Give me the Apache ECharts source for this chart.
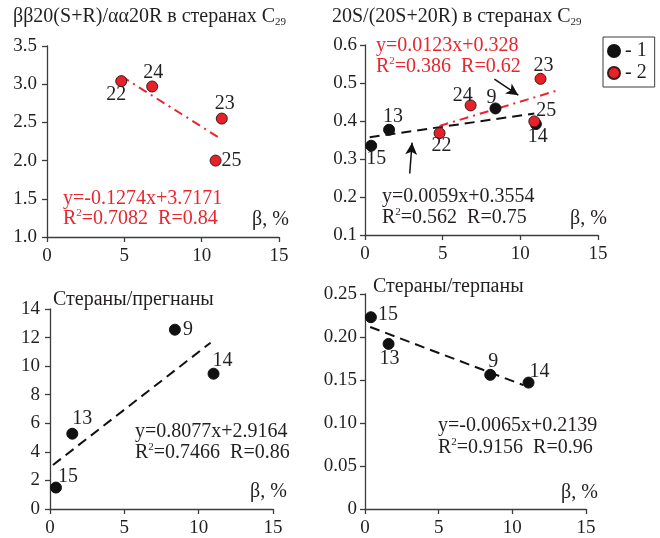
<!DOCTYPE html>
<html>
<head>
<meta charset="utf-8">
<script src="https://cdn.jsdelivr.net/npm/echarts@6/dist/echarts.min.js"></script>
<style>
  html, body { margin: 0; padding: 0; background: #fff; }
  #chart { width: 660px; height: 538px; }
</style>
</head>
<body>
<div id="chart"></div>
<script>
// β, % axis ticks shared by all four panels
const betaTicks = [0, 5, 10, 15];

// Panel A: ββ20(S+R)/αα20R in C29 steranes (group 2 only)
const aIds2 = ['22', '24', '23', '25'];
const aBeta2 = [4.8, 6.8, 11.3, 10.9];
const aVal2 = [3.04, 2.97, 2.55, 2.0];
const aFit2 = [-0.1274, 3.7171];
const aFit2Range = [4.8, 11.15];

// Panel B: 20S/(20S+20R) in C29 steranes
const bIds1 = ['15', '13', '9', '14'];
const bBeta1 = [0.4, 1.55, 8.4, 11.0];
const bVal1 = [0.335, 0.377, 0.433, 0.392];
const bIds2 = ['22', '24', '23', '25'];
const bBeta2 = [4.8, 6.8, 11.3, 10.9];
const bVal2 = [0.368, 0.441, 0.511, 0.399];
const bFit1 = [0.0059, 0.3554];
const bFit1Range = [0.3, 10.9];
const bFit2 = [0.0123, 0.328];
const bFit2Range = [4.8, 12.3];

// Panel C: steranes / pregnanes (group 1)
const cIds1 = ['15', '13', '9', '14'];
const cBeta1 = [0.4, 1.5, 8.4, 11.0];
const cVal1 = [1.5, 5.27, 12.55, 9.47];
const cFit1 = [0.8077, 2.9164];
const cFit1Range = [0.2, 10.8];

// Panel D: steranes / terpanes (group 1)
const dIds1 = ['15', '13', '9', '14'];
const dBeta1 = [0.4, 1.6, 8.5, 11.1];
const dVal1 = [0.223, 0.192, 0.156, 0.147];
const dFit1 = [-0.0065, 0.2139];
const dFit1Range = [0.35, 10.75];

const RED = '#e8262d';
const INK = '#231f20';
const SERIF = '"Liberation Serif", "Times New Roman", serif';
const FS = 20;      // annotation / label font size
const TICK_FS = 19; // tick label font size

// offset of each sample number from the centre of its dot, px
const labelShift = {
  a: { '22': [-5, 14], '24': [1, -14], '23': [3, -15], '25': [16, 0] },
  b1: { '15': [5, 13], '13': [4, -13], '9': [-4, -11], '14': [2, 13] },
  b2: { '22': [2, 13], '24': [-8, -10], '23': [3, -13], '25': [12, -11] },
  c: { '15': [12, -11], '13': [10, -15], '9': [13, 0], '14': [9, -13] },
  d: { '15': [17, -2], '13': [1, 15], '9': [3, -13], '14': [11, -11] }
};

function points(ids, xs, ys, shift) {
  return ids.map((id, i) => ({
    value: [xs[i], ys[i]],
    label: { show: true, formatter: id, position: 'inside', offset: shift[id],
             color: INK, fontFamily: SERIF, fontSize: FS }
  }));
}

function fitLine(coef, range) {
  return range.map(x => [x, coef[0] * x + coef[1]]);
}

const grids = [
  { left: 47, top: 46, width: 232, height: 191 },
  { left: 365, top: 45, width: 233, height: 190 },
  { left: 50, top: 309, width: 223, height: 202 },
  { left: 365, top: 294, width: 221, height: 215 }
];

const yCfg = [
  { min: 1.0, max: 3.5, interval: 0.5, fmt: v => v.toFixed(1), margin: 10 },
  { min: 0.1, max: 0.6, interval: 0.1, fmt: v => v.toFixed(1), margin: 8 },
  { min: 0, max: 14, interval: 2, fmt: v => String(v), margin: 10 },
  { min: 0, max: 0.25, interval: 0.05, fmt: v => (v === 0 ? '0' : v.toFixed(2)), margin: 8 }
];

const axisLineStyle = { color: '#3c3c3c', width: 1.3 };

const xAxes = grids.map((g, i) => ({
  gridIndex: i, type: 'value', min: betaTicks[0], max: betaTicks[betaTicks.length - 1],
  interval: betaTicks[1] - betaTicks[0],
  axisLine: { show: true, onZero: false, lineStyle: axisLineStyle },
  axisTick: { show: true, inside: false, length: 5, lineStyle: axisLineStyle },
  splitLine: { show: false },
  axisLabel: { color: INK, fontFamily: SERIF, fontSize: TICK_FS, margin: 10 }
}));

const yAxes = yCfg.map((c, i) => ({
  gridIndex: i, type: 'value', min: c.min, max: c.max, interval: c.interval,
  axisLine: { show: true, onZero: false, lineStyle: axisLineStyle },
  axisTick: { show: true, inside: false, length: 5, lineStyle: axisLineStyle },
  splitLine: { show: false },
  axisLabel: { color: INK, fontFamily: SERIF, fontSize: TICK_FS, margin: c.margin, formatter: c.fmt }
}));

const blackDot = { color: '#111111', borderColor: '#111111', borderWidth: 1, opacity: 1 };
const redDot = { color: '#e8202a', borderColor: '#3a1b1b', borderWidth: 1, opacity: 1 };
const DOT = 11;

function scatter(name, idx, data, style) {
  return { name, type: 'scatter', xAxisIndex: idx, yAxisIndex: idx, symbolSize: DOT,
           itemStyle: style, data, z: 5, emphasis: { disabled: true } };
}

function trend(idx, data, color, dash) {
  return { name: 'trend', type: 'line', xAxisIndex: idx, yAxisIndex: idx, data,
           showSymbol: false, symbol: 'none', silent: true, z: 3,
           lineStyle: { color, width: 2, type: dash } };
}

const DASH = [10, 6];
const DASHDOT = [9, 5, 2, 5];

const arrowStyle = { color: '#111111', width: 1.5, type: 'solid' };

const series = [
  scatter('1', 2, points(cIds1, cBeta1, cVal1, labelShift.c), blackDot),
  scatter('2', 0, points(aIds2, aBeta2, aVal2, labelShift.a), redDot),
  trend(0, fitLine(aFit2, aFit2Range), RED, DASHDOT),
  trend(1, fitLine(bFit1, bFit1Range), '#111111', DASH),
  trend(1, fitLine(bFit2, bFit2Range), RED, DASHDOT),
  Object.assign(scatter('1', 1, points(bIds1, bBeta1, bVal1, labelShift.b1), blackDot), {
    markLine: {
      silent: true, symbol: ['none', 'arrow'], symbolSize: [9, 12],
      label: { show: false }, lineStyle: arrowStyle,
      data: [
        [{ coord: [2.88, 0.262] }, { coord: [3.03, 0.343] }],
        [{ coord: [8.33, 0.51] }, { coord: [9.87, 0.468] }]
      ]
    }
  }),
  scatter('2', 1, points(bIds2, bBeta2, bVal2, labelShift.b2), redDot),
  trend(2, fitLine(cFit1, cFit1Range), '#111111', DASH),
  trend(3, fitLine(dFit1, dFit1Range), '#111111', DASH),
  scatter('1', 3, points(dIds1, dBeta1, dVal1, labelShift.d), blackDot)
];

function txt(x, y, text, color) {
  return { type: 'text', x, y, silent: true, z: 10,
           style: { text, fill: color, font: FS + 'px ' + SERIF, verticalAlign: 'middle' } };
}

function richStyles(color) {
  return {
    n: { fontFamily: SERIF, fontSize: FS, fill: color, color, lineHeight: FS + 2 },
    sup: { fontFamily: SERIF, fontSize: 11, fill: color, color, verticalAlign: 'top', lineHeight: FS + 2 },
    sub: { fontFamily: SERIF, fontSize: 11, fill: color, color, verticalAlign: 'bottom', lineHeight: FS + 2 }
  };
}

function rText(x, y, text, color) {
  return { type: 'text', x, y, silent: true, z: 10,
           style: { text, verticalAlign: 'middle', rich: richStyles(color) } };
}

const graphic = [
  // panel titles
  rText(13, 17, '{n|ββ20(S+R)/αα20R в стеранах C}{sub|29}', INK),
  rText(332, 17, '{n|20S/(20S+20R) в стеранах C}{sub|29}', INK),
  txt(53, 300, 'Стераны/прегнаны', INK),
  txt(373, 287, 'Стераны/терпаны', INK),
  // regression equations
  txt(63, 199, 'y=-0.1274x+3.7171', RED),
  rText(63, 219, '{n|R}{sup|2}{n|=0.7082  R=0.84}', RED),
  txt(376, 46, 'y=0.0123x+0.328', RED),
  rText(376, 67, '{n|R}{sup|2}{n|=0.386  R=0.62}', RED),
  txt(382, 197, 'y=0.0059x+0.3554', INK),
  rText(382, 218, '{n|R}{sup|2}{n|=0.562  R=0.75}', INK),
  txt(135, 432, 'y=0.8077x+2.9164', INK),
  rText(135, 453, '{n|R}{sup|2}{n|=0.7466  R=0.86}', INK),
  txt(438, 426, 'y=-0.0065x+0.2139', INK),
  rText(438, 448, '{n|R}{sup|2}{n|=0.9156  R=0.96}', INK),
  // axis names
  txt(252, 220, 'β, %', INK),
  txt(570, 219, 'β, %', INK),
  txt(250, 492, 'β, %', INK),
  txt(561, 493, 'β, %', INK)
];

const chart = echarts.init(document.getElementById('chart'), null, { renderer: 'canvas' });
chart.setOption({
  animation: false,
  backgroundColor: '#fff',
  grid: grids,
  xAxis: xAxes,
  yAxis: yAxes,
  legend: {
    data: ['1', '2'], orient: 'vertical', left: 603, top: 37,
    padding: [4, 8, 4, 4], itemGap: 2, itemWidth: 12, itemHeight: 12,
    borderColor: '#3c3c3c', borderWidth: 1, selectedMode: false,
    formatter: '- {name}',
    textStyle: { fontFamily: SERIF, fontSize: FS, color: INK }
  },
  series,
  graphic
});
</script>
</body>
</html>
